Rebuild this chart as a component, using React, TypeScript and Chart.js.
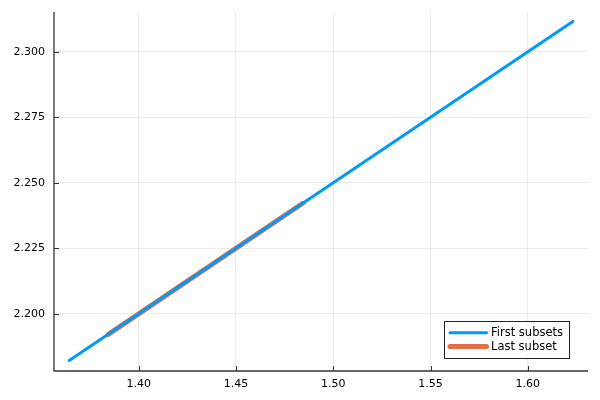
import React, { useEffect, useRef } from "react";
import { Chart, registerables } from "chart.js";

Chart.register(...registerables);

const firstX = [1.3643, 1.6231];
const firstY = [2.1822, 2.3116];
const lastX = [1.3844, 1.4843];
const lastY = [2.1922, 2.2422];
const xTicks = [1.4, 1.45, 1.5, 1.55, 1.6];
const yTicks = [2.2, 2.225, 2.25, 2.275, 2.3];
const seriesNames = ["First subsets", "Last subset"];

const X_MIN = 1.3565;
const X_MAX = 1.6309;
const Y_MIN = 2.1782;
const Y_MAX = 2.3152;

const FONT = "'DejaVu Sans', sans-serif";

const frame = {
  id: "frame",
  afterDatasetsDraw(chart: any) {
    const { ctx, chartArea, scales } = chart;
    const { left, right, top, bottom } = chartArea;
    ctx.save();
    // axes
    ctx.strokeStyle = "#333333";
    ctx.lineWidth = 1.3;
    ctx.beginPath();
    ctx.moveTo(left, top);
    ctx.lineTo(left, bottom);
    ctx.lineTo(right, bottom);
    ctx.stroke();
    // inward ticks
    ctx.lineWidth = 1;
    ctx.beginPath();
    for (const v of yTicks) {
      const y = Math.round(scales.y.getPixelForValue(v)) + 0.5;
      ctx.moveTo(left, y);
      ctx.lineTo(left + 5, y);
    }
    for (const v of xTicks) {
      const x = Math.round(scales.x.getPixelForValue(v)) + 0.5;
      ctx.moveTo(x, bottom);
      ctx.lineTo(x, bottom - 5);
    }
    ctx.stroke();
    // legend
    const bx = 444.5, by = 321.5, bw = 125, bh = 37;
    ctx.fillStyle = "#ffffff";
    ctx.fillRect(bx, by, bw, bh);
    ctx.strokeStyle = "#222222";
    ctx.lineWidth = 1;
    ctx.strokeRect(bx, by, bw, bh);
    ctx.font = `11.5px ${FONT}`;
    ctx.textBaseline = "middle";
    ctx.textAlign = "left";
    chart.data.datasets.forEach((ds: any, i: number) => {
      const y = by + 11.3 + i * 13.6;
      ctx.strokeStyle = ds.borderColor;
      ctx.lineWidth = ds.borderWidth;
      ctx.lineCap = "round";
      ctx.beginPath();
      ctx.moveTo(bx + 5.5, y);
      ctx.lineTo(bx + 42, y);
      ctx.stroke();
      ctx.fillStyle = "#000000";
      ctx.fillText(seriesNames[i], bx + 46.5, y + 0.5);
    });
    ctx.restore();
  },
};

export default function App() {
  const ref = useRef<HTMLCanvasElement | null>(null);
  useEffect(() => {
    document.body.style.margin = "0";
    const chart = new Chart(ref.current!, {
      type: "line",
      data: {
        datasets: [
          {
            label: seriesNames[0],
            data: firstX.map((x, i) => ({ x, y: firstY[i] })),
            borderColor: "#009AFA",
            borderWidth: 3,
            pointRadius: 0,
            borderCapStyle: "round",
            fill: false,
          },
          {
            label: seriesNames[1],
            data: lastX.map((x, i) => ({ x, y: lastY[i] })),
            borderColor: "#E36F47",
            borderWidth: 5,
            pointRadius: 0,
            borderCapStyle: "round",
            fill: false,
          },
        ],
      },
      options: {
        responsive: false,
        animation: false,
        layout: { padding: { left: 0, right: 12, top: 12, bottom: 0 } },
        plugins: { legend: { display: false }, tooltip: { enabled: false } },
        scales: {
          x: {
            type: "linear",
            min: X_MIN,
            max: X_MAX,
            afterBuildTicks: (s: any) => {
              s.ticks = xTicks.map((v) => ({ value: v }));
            },
            afterFit: (s: any) => {
              s.height = 29;
              s.paddingLeft = 0;
              s.paddingRight = 0;
            },
            ticks: {
              color: "#000000",
              font: { family: FONT, size: 11 },
              padding: 7,
              maxRotation: 0,
              callback: (v: any) => Number(v).toFixed(2),
            },
            grid: { color: "rgba(0,0,0,0.08)", drawTicks: false, lineWidth: 1 },
            border: { display: false },
          },
          y: {
            type: "linear",
            min: Y_MIN,
            max: Y_MAX,
            afterBuildTicks: (s: any) => {
              s.ticks = yTicks.map((v) => ({ value: v }));
            },
            afterFit: (s: any) => {
              s.width = 54;
              s.paddingTop = 0;
              s.paddingBottom = 0;
            },
            ticks: {
              color: "#000000",
              font: { family: FONT, size: 11 },
              padding: 9,
              callback: (v: any) => Number(v).toFixed(3),
            },
            grid: { color: "rgba(0,0,0,0.08)", drawTicks: false, lineWidth: 1 },
            border: { display: false },
          },
        },
      },
      plugins: [frame],
    });
    return () => chart.destroy();
  }, []);
  return <canvas ref={ref} width={600} height={400} style={{ display: "block" }} />;
}
